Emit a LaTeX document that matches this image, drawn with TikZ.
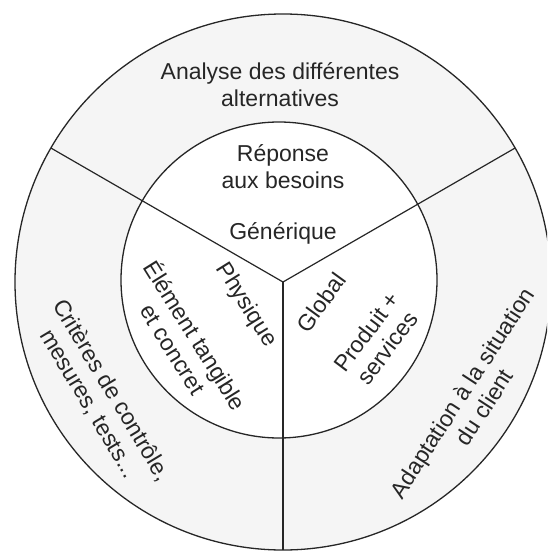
\documentclass[tikz,border=0pt]{standalone}
\usepackage{fontspec}
\setmainfont{Liberation Sans}
\begin{document}
\begin{tikzpicture}[x=1pt,y=-1pt,
  lbl/.style={font=\fontsize{23}{26.5}\selectfont, align=center, inner sep=0pt, text=black!85},
  ring/.style={circle, draw=black!85, line width=1.3pt, inner sep=0pt, outer sep=0pt},
  spoke/.style={draw=black!85, line width=1.2pt}]
\useasboundingbox (0,0) rectangle (547,551);
\begin{scope}
\clip (0,0) rectangle (547,551);
\node[ring, minimum size=536pt, fill=black!4] (outer) at (283,282) {};
\node[ring, minimum size=316pt, fill=white] (inner) at (279,280) {};
\coordinate (J) at (283,282);
\draw[spoke] (J) -- (outer.150);
\draw[spoke] (J) -- (outer.30);
\draw[spoke] (J) -- (outer.270);
\end{scope}
\node[lbl] (analyse) at (280,84.5) {Analyse des différentes\\alternatives};
\node[lbl] (reponse) at (283,166.5) {Réponse\\aux besoins};
\node[lbl] (generique) at (283,233) {Générique};
\node[lbl, rotate=-58] (physique) at (246,305) {Physique};
\node[lbl, rotate=-58] (element) at (185.5,341.5) {Élément tangible\\et concret};
\node[lbl, rotate=54] (global) at (321,302.5) {Global};
\node[lbl, rotate=53] (produit) at (377,340) {Produit +\\services};
\node[lbl, rotate=-59] (criteres) at (100,397) {Critères de contrôle,\\mesures, tests...};
\node[lbl, rotate=57] (adaptation) at (473,400) {Adaptation à la situation\\du client};
\end{tikzpicture}
\end{document}
